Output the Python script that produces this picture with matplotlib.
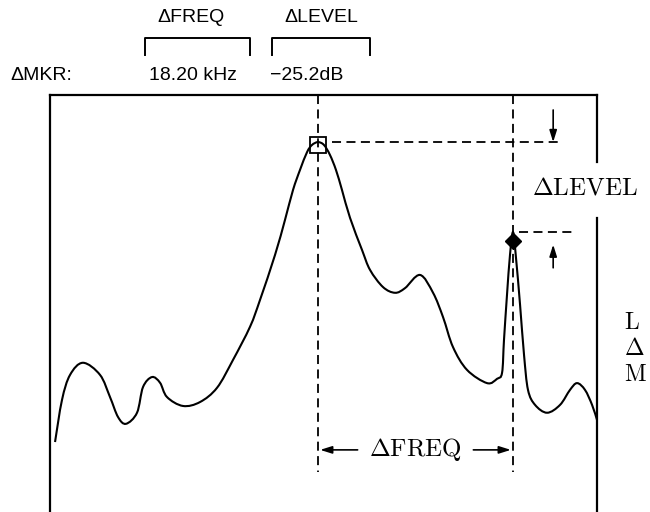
import numpy as np
import matplotlib.pyplot as plt
from matplotlib.lines import Line2D
from matplotlib.path import Path
from matplotlib.patches import PathPatch
from matplotlib.transforms import offset_copy

plt.rcParams['mathtext.fontset'] = 'cm'

# trace: frequency across the span (kHz), level below top line (dB)
freq_khz = [0.47, 1.12, 1.87, 3.08, 4.67, 5.60, 6.35, 7.09, 8.12, 8.68,
            9.52, 10.27, 10.92, 12.41, 14.00, 15.59, 17.08, 18.67, 19.60, 21.00,
            21.93, 22.68, 23.33, 23.99, 24.45, 25.01, 25.57, 26.13, 26.69, 27.25,
            28.00, 29.12, 29.87, 31.08, 32.20, 33.13, 34.53, 35.75, 36.68, 37.61,
            38.92, 40.79, 41.72, 42.19, 42.37, 42.65, 42.93, 43.21, 43.49, 43.87,
            44.24, 44.61, 45.27, 46.39, 47.60, 48.53, 49.19, 49.93, 50.59, 51.05]
level_db = [-97.2, -85.4, -78.4, -75.0, -78.4, -84.6, -90.2, -92.1, -89.0, -81.8,
            -79.0, -80.6, -84.6, -87.1, -86.0, -82.0, -74.2, -64.9, -57.4, -44.8,
            -35.0, -26.6, -21.0, -16.0, -14.0, -13.2, -14.0, -16.8, -21.0, -26.6,
            -34.4, -43.4, -49.0, -53.8, -55.4, -54.1, -50.4, -55.4, -62.2, -70.6,
            -77.0, -80.7, -79.5, -77.8, -68.6, -56.0, -44.8, -38.4, -45.6, -58.8,
            -72.8, -82.6, -86.8, -89.0, -86.8, -82.6, -80.7, -82.6, -86.8, -91.0]

# reference marker (box) and delta marker (diamond)
marker_freq = [25.01, 43.21]
marker_level = [-13.2, -38.4]

span_khz = 51.05
bottom_db = -116.8

W, H = 650, 512


def fpx(x, y):
    """pixel position -> figure fraction"""
    return x / W, 1 - y / H


def smooth_path(xs, ys):
    """Catmull-Rom through the read points, drawn as cubic beziers."""
    p = np.column_stack([xs, ys])
    n = len(p)
    verts = [p[0]]
    codes = [Path.MOVETO]
    for i in range(n - 1):
        p0 = p[max(i - 1, 0)]
        p1, p2 = p[i], p[i + 1]
        p3 = p[min(i + 2, n - 1)]
        verts += [p1 + (p2 - p0) / 6, p2 - (p3 - p1) / 6, p2]
        codes += [Path.CURVE4] * 3
    return Path(verts, codes)


def plot_delta_marker():
    fig = plt.figure(figsize=(W / 100, H / 100), dpi=100)
    ax = fig.add_axes([50 / W, 0, 547 / W, 417 / H])
    ax.set_xlim(0, span_khz)
    ax.set_ylim(bottom_db, 0)
    ax.set_xticks([])
    ax.set_yticks([])
    for s in ('right', 'bottom'):
        ax.spines[s].set_visible(False)
    for s in ('left', 'top'):
        ax.spines[s].set_linewidth(1.6)

    f0, f1 = marker_freq
    l0, l1 = marker_level
    dash = (0, (5, 3))
    k = dict(color='black', lw=1.3, linestyle=dash)

    # trace
    ax.add_patch(PathPatch(smooth_path(freq_khz, level_db), fc='none', ec='black',
                           lw=1.5, zorder=3))

    # markers
    ax.plot(f0, l0, marker='s', ms=11, mfc='none', mec='black', mew=1.3,
            transform=offset_copy(ax.transData, fig=fig, y=-3, units='dots'), zorder=4)
    ax.plot(f1, l1, marker='D', ms=8, color='black',
            transform=offset_copy(ax.transData, fig=fig, y=-9, units='dots'), zorder=4)

    # vertical marker lines
    ax.plot([f0, f0], [0, -105.6], **k)
    ax.plot([f1, f1], [0, -105.6], **k)

    # level lines
    ax.plot([f0 + 1.3, f1 + 4.7], [l0, l0], **k)
    ax.plot([f1 + 0.6, f1 + 5.8], [l1, l1], **k)

    arr = dict(arrowstyle='-|>,head_length=0.7,head_width=0.22', color='black', lw=1.2,
               shrinkA=0, shrinkB=0)
    ax.annotate('', xy=(f1 + 3.75, l0), xytext=(f1 + 3.75, l0 + 9), arrowprops=arr)
    ax.annotate('', xy=(f1 + 3.75, l1 - 3.5), xytext=(f1 + 3.75, l1 - 10), arrowprops=arr)

    # right frame with gap for the label
    ax.plot([span_khz, span_khz], [0, l0 - 5.6], color='black', lw=1.6, clip_on=False)
    ax.plot([span_khz, span_khz], [l1 + 4.0, bottom_db], color='black', lw=1.6, clip_on=False)
    ax.text(f1 + 1.8, (l0 + l1) / 2, r'$\Delta\mathrm{LEVEL}$', fontsize=18,
            ha='left', va='center', clip_on=False)

    # delta frequency arrows
    yf = -99.4
    ax.annotate('', xy=(f0 + 0.2, yf), xytext=(f0 + 3.7, yf), arrowprops=arr)
    ax.annotate('', xy=(f1 - 0.2, yf), xytext=(f1 - 3.7, yf), arrowprops=arr)
    ax.text((f0 + f1) / 2, yf, r'$\Delta\mathrm{FREQ}$', fontsize=18,
            ha='center', va='center')

    # letters at the right edge (start of a cut-off side readout)
    for txt, yy in zip([r'$\mathrm{L}$', r'$\Delta$', r'$\mathrm{M}$'], [322, 348, 374]):
        fig.text(*fpx(624, yy), txt, fontsize=17, ha='left', va='center')

    # readout header
    sans = dict(family=['Liberation Sans', 'DejaVu Sans'], fontsize=14)
    fig.text(*fpx(191, 18), 'ΔFREQ', ha='center', va='center', **sans)
    fig.text(*fpx(321, 18), 'ΔLEVEL', ha='center', va='center', **sans)
    fig.text(*fpx(10, 76), 'ΔMKR:', ha='left', va='center', **sans)
    fig.text(*fpx(193, 76), f'{f1 - f0:.2f} kHz', ha='center', va='center', **sans)
    fig.text(*fpx(307, 76), f'{l1 - l0:.1f}dB'.replace('-', '−'), ha='center', va='center', **sans)
    for x0, x1 in [(145, 250), (272, 370)]:
        xs, ys = zip(*[fpx(x0, 55), fpx(x0, 38), fpx(x1, 38), fpx(x1, 55)])
        fig.add_artist(Line2D(xs, ys, color='black', lw=1.4))

    fig.savefig('out.png', dpi=100)
    plt.close(fig)


if __name__ == '__main__':
    plot_delta_marker()
